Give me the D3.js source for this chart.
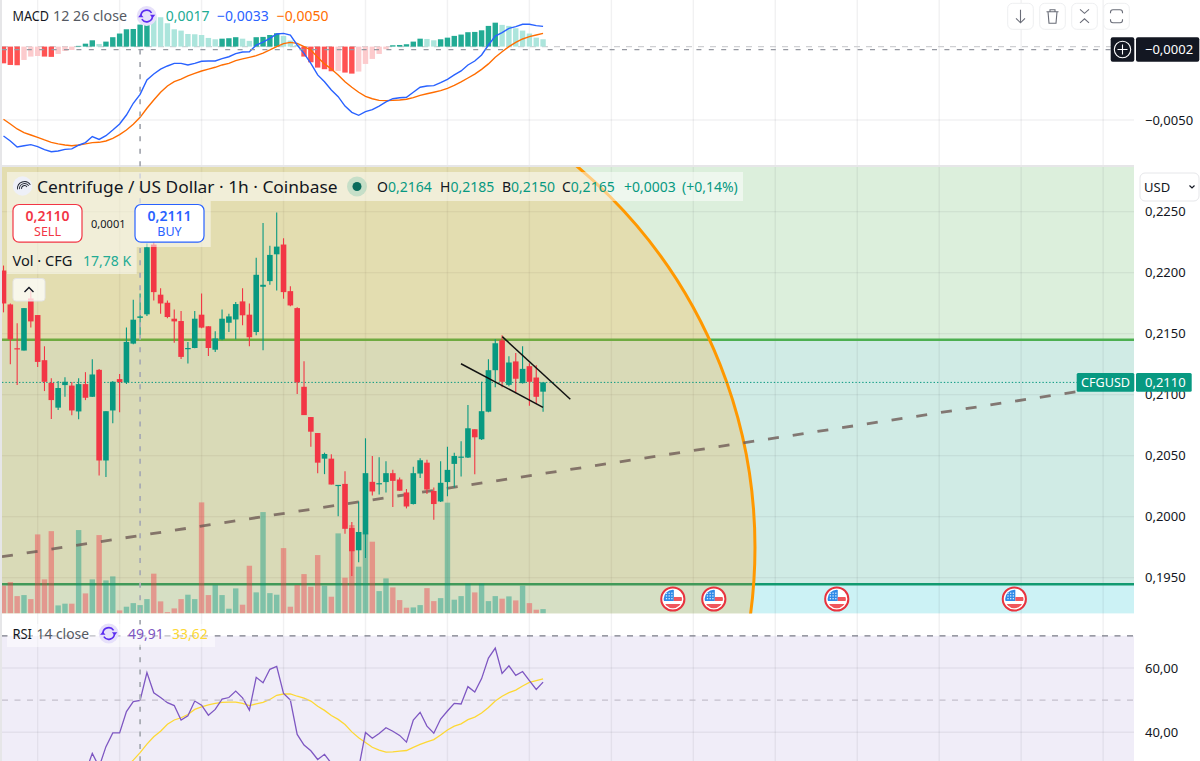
<!DOCTYPE html>
<html>
<head>
<meta charset="utf-8">
<title>CFGUSD 1h</title>
<script src="https://cdn.jsdelivr.net/npm/d3@7/dist/d3.min.js"></script>
<style>
  html, body { margin: 0; padding: 0; background: #fff; overflow: hidden; }
  svg { display: block; }
  text { font-family: "Noto Sans", "Open Sans", sans-serif; }
</style>
</head>
<body>
<svg id="chart" width="1200" height="761"></svg>
<script>
// Hourly candles, oldest first
const opens = [.22017,.21739,.21380,.21361,.21788,.21652,.21282,.21096,.20893,.21078,.21074,.20862,.21086,.20982,.21203,.20460,.20870,.21127,.21100,.21418,.21629,.21658,.22230,.21819,.21753,.21622,.21603,.21372,.21382,.21655,.21560,.21368,.21453,.21589,.21616,.21764,.21655,.21513,.21884,.21930,.22150,.22230,.21848,.21709,.21064,.20816,.20685,.20475,.20475,.20252,.20268,.19906,.19724,.19854,.20285,.20266,.20283,.20356,.20304,.20198,.20103,.20353,.20442,.20210,.20124,.20283,.20432,.20484,.20484,.20716,.20634,.20860,.21200,.21445,.21080,.21272,.21094,.21233,.21140,.21024];
const highs = [.22058,.21747,.21584,.21709,.21854,.21652,.21396,.21135,.21111,.21143,.21104,.21135,.21184,.21290,.21209,.20864,.21111,.21168,.21550,.21778,.21829,.22238,.22262,.21872,.21772,.21698,.21685,.21431,.21685,.21829,.21560,.21520,.21698,.21663,.21758,.21872,.21747,.22121,.22407,.22221,.22493,.22281,.21889,.21715,.21274,.20816,.20685,.20524,.20511,.20260,.20372,.19955,.20124,.20642,.20497,.20487,.20454,.20383,.20320,.20226,.20408,.20478,.20467,.20239,.20454,.20572,.20524,.20618,.20914,.20716,.21105,.21290,.21453,.21486,.21315,.21342,.21396,.21257,.21241,.21100];
const lows = [.21674,.21249,.21078,.21361,.21551,.21227,.21029,.20800,.20873,.20982,.20830,.20797,.20955,.20980,.20337,.20324,.20765,.20855,.21086,.21412,.21486,.21644,.21772,.21663,.21625,.21426,.21292,.21255,.21380,.21543,.21317,.21349,.21445,.21513,.21453,.21568,.21396,.21486,.21364,.21900,.21854,.21786,.21725,.21004,.20832,.20572,.20356,.20348,.20263,.20002,.19860,.19514,.19626,.19660,.20173,.20181,.20198,.20078,.20212,.20067,.20100,.20316,.20186,.19975,.20120,.20167,.20238,.20328,.20480,.20348,.20628,.20855,.21061,.21061,.21069,.21012,.21090,.20908,.20923,.20859];
const closes = [.21747,.21453,.21372,.21709,.21600,.21268,.21105,.20955,.21054,.21105,.20870,.21086,.20974,.21165,.20460,.20864,.21105,.21102,.21432,.21614,.21641,.22208,.21840,.21747,.21636,.21600,.21309,.21382,.21622,.21549,.21382,.21460,.21622,.21641,.21742,.21650,.21470,.21982,.21900,.22145,.22213,.21840,.21731,.21100,.20832,.20696,.20442,.20513,.20263,.20260,.19900,.19716,.19874,.20356,.20206,.20274,.20356,.20293,.20212,.20083,.20356,.20462,.20222,.20103,.20277,.20383,.20497,.20492,.20724,.20650,.20864,.21200,.21421,.21105,.21263,.21130,.21211,.21105,.20982,.21100];
// Traded volume per bar, thousands of CFG
const volumes = [59.3,67,37,39.2,30.6,169,72.8,176,17.1,20.8,20.8,178.3,42.8,72.8,167.6,70.6,79.2,6.4,14.3,22,17.78,30.6,85,25.7,2.8,10.7,30.6,40,30.6,237.5,39.2,60.6,39.2,10,53.5,18.6,102,45,216.8,43.4,40,139.7,14.3,60.6,84.1,57.1,124.8,59.3,35.7,171.2,76.4,189,100,171.2,153.4,47.7,74.9,55.6,28.5,12.2,12.8,17.8,54.1,26.3,32.7,236.9,29.3,37,64.2,44.9,64.2,26.3,37,31.5,36.4,27.8,59.3,22,7.9,9.2];
// MACD (12, 26, close)
const macdLine = [-.00609,-.00643,-.00684,-.00675,-.00668,-.00681,-.00702,-.00716,-.00711,-.00700,-.00697,-.00672,-.00654,-.00613,-.00632,-.00607,-.00568,-.00527,-.00466,-.00386,-.00325,-.00227,-.00187,-.00153,-.00132,-.00114,-.00114,-.00125,-.00114,-.00100,-.00098,-.00098,-.00082,-.00069,-.00048,-.00037,-.00035,.00011,.00031,.00056,.00086,.00090,.00079,.00011,-.00046,-.00114,-.00193,-.00239,-.00296,-.00341,-.00405,-.00448,-.00468,-.00443,-.00429,-.00405,-.00377,-.00355,-.00348,-.00345,-.00311,-.00277,-.00268,-.00266,-.00246,-.00223,-.00193,-.00166,-.00125,-.00098,-.00057,.00011,.00072,.00095,.00124,.00136,.00152,.00152,.00143,.00138];
const signalLine = [-.00495,-.00527,-.00561,-.00586,-.00602,-.00618,-.00636,-.00652,-.00663,-.00670,-.00675,-.00670,-.00663,-.00654,-.00652,-.00643,-.00625,-.00600,-.00568,-.00529,-.00482,-.00420,-.00364,-.00311,-.00268,-.00239,-.00221,-.00200,-.00182,-.00166,-.00153,-.00141,-.00125,-.00114,-.00096,-.00084,-.00073,-.00062,-.00044,-.00023,0,.00020,.00029,.00022,0,-.00023,-.00073,-.00118,-.00153,-.00193,-.00239,-.00277,-.00311,-.00339,-.00355,-.00366,-.00368,-.00366,-.00364,-.00359,-.00348,-.00332,-.00321,-.00311,-.00300,-.00284,-.00264,-.00241,-.00214,-.00187,-.00155,-.00118,-.00073,-.00035,0,.00029,.00052,.00068,.00079,.00090];
const macdHist = [-.00114,-.00125,-.00127,-.00091,-.00068,-.00064,-.00068,-.00070,-.00050,-.00030,-.00023,.00005,.00020,.00043,.00018,.00034,.00064,.00089,.00118,.00120,.00150,.00211,.00204,.00200,.00159,.00118,.00109,.00086,.00084,.00079,.00059,.00050,.00054,.00057,.00064,.00054,.00039,.00064,.00066,.00079,.00091,.00073,.00041,.00011,-.00068,-.00107,-.00143,-.00154,-.00168,-.00166,-.00177,-.00184,-.00170,-.00118,-.00084,-.00050,-.00018,.00009,.00011,.00016,.00034,.00054,.00052,.00043,.00050,.00061,.00073,.00082,.00098,.00100,.00111,.00141,.00163,.00148,.00141,.00125,.00109,.00089,.00061,.00050];
// RSI (14, close) and its moving average; earlier bars fall below the visible pane
const rsiLine = [null,null,null,null,null,null,null,null,null,null,null,null,27.5,33.4,29.2,35.5,39.8,39.8,46.4,49.5,49.91,58.6,52.3,50.8,49.2,48.3,43.8,45.1,49.7,48.4,45.3,47.1,50.3,50.8,52.8,50.7,46.9,57.1,55.4,59.6,60.5,52.1,50,39.3,36,34.2,31.5,33.1,30.3,28.7,26.1,24,28.7,39.9,38.1,39.6,41.4,40.3,39,36.9,43.8,46.2,41.9,39.7,44.1,46.6,49,48.8,54.2,52.5,56.7,63.1,66.2,58.3,60.7,57.7,58.9,56.1,53.3,55.6];
const rsiMa = [null,null,null,null,null,null,null,null,null,null,null,null,null,null,null,null,null,null,29.2,31.3,33.62,36.3,38.6,40.3,42.5,43.8,44.5,45.5,47.1,47.9,48.5,49,49.3,49.4,49.4,49,48.3,48.8,49.3,50.2,51.5,51.9,51.9,51.2,50.6,49.7,48.1,46.8,45.2,44,42.4,40.1,38.3,36.8,35.3,34.4,33.8,33.9,34.1,34.3,35.3,36.2,37,37.7,39.1,40.7,41.9,42.6,43.9,44.7,46,47.7,49.7,51.2,52.3,53.1,54.4,55.5,56.1,56.6];

const priceTicks = [0.225, 0.22, 0.215, 0.21, 0.205, 0.2, 0.195];
const macdTicks = [-0.005];
const rsiTicks = [60, 40];
const rsiBands = [70, 50];
const gridBars = [5,17,29,41,53,65,77,89,101,113,125,137,149,161];
const eventBars = [98, 104, 122, 148];
const crosshairBar = 20;
const crosshairMacd = -0.0002;
const lastPrice = 0.2110;
const resistance = 0.2145;
const support = 0.19445;
// Drawings, as [bar, price] anchors
const trendAnchors = [[-0.22, 0.19671], [157.1, 0.21024]];
const wedgeUpper = [[73.03, 0.21475], [82.99, 0.20962]];
const wedgeLower = [[66.98, 0.21253], [78.99, 0.20896]];
const circleCentre = [37.26, 0.19747];
const circleRadius = 497;

const GREEN = "#089981", RED = "#f23645", INK = "#131722";
const PANE_L = 2, PANE_R = 1134, MAIN_T = 167, MAIN_B = 613.4, RSI_T = 635.8;

const x = d3.scaleLinear().domain([0, 161]).range([3.5, 3.5 + 6.83 * 161]);
const yPrice = d3.scaleLinear().domain([0.195, 0.225]).range([577.6, 211.6]);
const yVol = d3.scaleLinear().domain([0, 237.5]).range([MAIN_B, MAIN_B - 111]);
const yMacd = d3.scaleLinear().domain([-0.005, 0]).range([120, 46.6]);
const yRsi = d3.scaleLinear().domain([40, 60]).range([732.2, 668]);
const comma = f => v => d3.format(f)(v).replace(".", ",");
const fmt4 = comma(".4f"), fmt2 = comma(".2f");

const svg = d3.select("#chart");
const defs = svg.append("defs");
defs.append("clipPath").attr("id", "clip-macd").append("rect")
  .attr("x", PANE_L).attr("y", 0).attr("width", PANE_R - PANE_L).attr("height", 165);
defs.append("clipPath").attr("id", "clip-main").append("rect")
  .attr("x", PANE_L).attr("y", MAIN_T).attr("width", PANE_R - PANE_L).attr("height", MAIN_B - MAIN_T);
defs.append("clipPath").attr("id", "clip-rsi").append("rect")
  .attr("x", PANE_L).attr("y", RSI_T).attr("width", PANE_R - PANE_L).attr("height", 761 - RSI_T);

// Pane backgrounds
svg.append("rect").attr("width", 1200).attr("height", 761).attr("fill", "#fff");
svg.append("rect").attr("x", PANE_L).attr("y", RSI_T).attr("width", PANE_R - PANE_L).attr("height", 761 - RSI_T).attr("fill", "#f0edf8");
const zones = [
  { top: MAIN_T, bottom: yPrice(resistance), fill: "#dcefdc" },
  { top: yPrice(resistance), bottom: yPrice(support), fill: "#d0ebe5" },
  { top: yPrice(support), bottom: MAIN_B, fill: "#ccf2f5" }
];
svg.selectAll("rect.zone").data(zones).join("rect").attr("class", "zone")
  .attr("x", PANE_L).attr("width", PANE_R - PANE_L)
  .attr("y", d => d.top).attr("height", d => d.bottom - d.top).attr("fill", d => d.fill);

// Grid
const grid = svg.append("g").attr("stroke", "rgba(42,46,57,0.065)").attr("stroke-width", 1.4);
grid.selectAll("line.v").data(gridBars).join("line").attr("class", "v")
  .attr("x1", d => x(d)).attr("x2", d => x(d)).attr("y1", 0).attr("y2", 761);
const hGrid = [...priceTicks.map(yPrice), ...macdTicks.map(yMacd), ...rsiTicks.map(yRsi)];
grid.selectAll("line.h").data(hGrid).join("line").attr("class", "h")
  .attr("x1", PANE_L).attr("x2", PANE_R).attr("y1", d => d).attr("y2", d => d);

// Window edges
svg.append("rect").attr("x", 0).attr("y", 0).attr("width", PANE_L).attr("height", 761).attr("fill", "#e6e6e8");
svg.append("rect").attr("x", 0).attr("y", 165).attr("width", PANE_R).attr("height", 2).attr("fill", "#e6e6e8");

// MACD pane
const macdPane = svg.append("g").attr("clip-path", "url(#clip-macd)");
macdPane.append("line").attr("x1", PANE_L).attr("x2", PANE_R).attr("y1", yMacd(0)).attr("y2", yMacd(0))
  .attr("stroke", "#cfd0d3").attr("stroke-width", 1.2).attr("stroke-dasharray", "6 6");
const histFill = (d, i) => {
  const prev = i ? macdHist[i - 1] : d;
  if (d >= 0) return d >= prev ? "#22ab94" : "#ace5dc";
  return d <= prev ? "#ff5252" : "#fccbcd";
};
macdPane.selectAll("rect.hist").data(macdHist).join("rect").attr("class", "hist")
  .attr("x", (d, i) => x(i) - 2.7).attr("width", 5.4)
  .attr("y", d => Math.min(yMacd(d), yMacd(0))).attr("height", d => Math.abs(yMacd(d) - yMacd(0)))
  .attr("fill", histFill);
const macdPath = d3.line().x((d, i) => x(i)).y(d => yMacd(d));
macdPane.append("path").attr("d", macdPath(signalLine)).attr("fill", "none").attr("stroke", "#ff6d00").attr("stroke-width", 1.4);
macdPane.append("path").attr("d", macdPath(macdLine)).attr("fill", "none").attr("stroke", "#2962ff").attr("stroke-width", 1.4);

// Main pane
const main = svg.append("g").attr("clip-path", "url(#clip-main)");
main.append("line").attr("x1", PANE_L).attr("x2", PANE_R).attr("y1", yPrice(resistance)).attr("y2", yPrice(resistance))
  .attr("stroke", "#4caf50").attr("stroke-width", 2.4);
main.append("line").attr("x1", PANE_L).attr("x2", PANE_R).attr("y1", yPrice(support)).attr("y2", yPrice(support))
  .attr("stroke", "#129a70").attr("stroke-width", 2.4);
main.append("circle")
  .attr("cx", x(circleCentre[0])).attr("cy", yPrice(circleCentre[1])).attr("r", circleRadius)
  .attr("fill", "rgba(255,152,0,0.2)").attr("stroke", "#ff9800").attr("stroke-width", 3);

main.selectAll("rect.vol").data(volumes).join("rect").attr("class", "vol")
  .attr("x", (d, i) => x(i) - 2.7).attr("width", 5.4)
  .attr("y", d => yVol(d)).attr("height", d => MAIN_B - yVol(d))
  .attr("fill", (d, i) => closes[i] >= opens[i] ? GREEN : RED)
  .attr("opacity", 0.42);

const anchorLine = d3.line().x(d => x(d[0])).y(d => yPrice(d[1]));
main.append("path").attr("d", anchorLine(trendAnchors)).attr("fill", "none")
  .attr("stroke", "rgba(110,90,85,0.8)").attr("stroke-width", 2.8).attr("stroke-dasharray", "11 14");
main.append("line").attr("x1", PANE_L).attr("x2", PANE_R).attr("y1", yPrice(lastPrice)).attr("y2", yPrice(lastPrice))
  .attr("stroke", GREEN).attr("stroke-width", 1).attr("stroke-dasharray", "1.4 2");

const candle = main.selectAll("g.bar").data(opens).join("g").attr("class", "bar")
  .attr("fill", (d, i) => closes[i] >= d ? GREEN : RED)
  .attr("stroke", (d, i) => closes[i] >= d ? GREEN : RED);
candle.append("line")
  .attr("x1", (d, i) => x(i)).attr("x2", (d, i) => x(i))
  .attr("y1", (d, i) => yPrice(highs[i])).attr("y2", (d, i) => yPrice(lows[i]))
  .attr("stroke-width", 1.1);
candle.append("rect").attr("stroke", "none")
  .attr("x", (d, i) => x(i) - 2.8).attr("width", 5.6)
  .attr("y", (d, i) => yPrice(Math.max(d, closes[i])))
  .attr("height", (d, i) => Math.max(1.2, Math.abs(yPrice(d) - yPrice(closes[i]))));

[wedgeUpper, wedgeLower].forEach(a => main.append("path").attr("d", anchorLine(a))
  .attr("fill", "none").attr("stroke", "#111").attr("stroke-width", 1.5));

// Economic event markers
const flag = main.selectAll("g.event").data(eventBars).join("g").attr("class", "event")
  .attr("transform", d => `translate(${x(d)},599)`);
defs.append("clipPath").attr("id", "clip-flag").append("circle").attr("r", 9.2);
flag.append("circle").attr("r", 11.6).attr("fill", "#fff").attr("stroke", "#e8333f").attr("stroke-width", 2);
const flagBody = flag.append("g").attr("clip-path", "url(#clip-flag)");
flagBody.append("rect").attr("x", -10).attr("y", -10).attr("width", 11).attr("height", 12).attr("fill", "#2f8ae8");
flagBody.append("rect").attr("x", 1).attr("y", -2).attr("width", 10).attr("height", 4).attr("fill", "#f0565c");
flagBody.append("rect").attr("x", -10).attr("y", 5).attr("width", 20).attr("height", 5).attr("fill", "#f0565c");
flagBody.selectAll("rect.star").data(d3.cross(d3.range(3), d3.range(3))).join("rect").attr("class", "star")
  .attr("x", d => -7 + d[0] * 2.7).attr("y", d => -6.4 + d[1] * 2.7)
  .attr("width", 1.3).attr("height", 1.3).attr("fill", "#d6e9fb");

// RSI pane
const rsiPane = svg.append("g").attr("clip-path", "url(#clip-rsi)");
const rsiPath = d3.line().defined(d => d !== null).x((d, i) => x(i)).y(d => yRsi(d));
rsiPane.append("path").attr("d", rsiPath(rsiMa)).attr("fill", "none").attr("stroke", "#fdd835").attr("stroke-width", 1.3);
rsiPane.append("path").attr("d", rsiPath(rsiLine)).attr("fill", "none").attr("stroke", "#7e57c2").attr("stroke-width", 1.3);
svg.append("line").attr("x1", PANE_L).attr("x2", PANE_R).attr("y1", yRsi(rsiBands[0])).attr("y2", yRsi(rsiBands[0]))
  .attr("stroke", "#787b86").attr("stroke-width", 1.2).attr("stroke-dasharray", "6 6.5");
svg.append("line").attr("x1", PANE_L).attr("x2", PANE_R).attr("y1", yRsi(rsiBands[1])).attr("y2", yRsi(rsiBands[1]))
  .attr("stroke", "#c3c0cc").attr("stroke-width", 1.4).attr("stroke-dasharray", "6 6.5");

// Crosshair
const cross = svg.append("g").attr("stroke", "#9598a1").attr("fill", "none");
cross.append("line").attr("x1", PANE_L).attr("x2", PANE_R).attr("y1", yMacd(crosshairMacd)).attr("y2", yMacd(crosshairMacd))
  .attr("stroke-width", 1.2).attr("stroke-dasharray", "5 7.4");
cross.append("line").attr("x1", x(crosshairBar)).attr("x2", x(crosshairBar)).attr("y1", yMacd(crosshairMacd)).attr("y2", 761)
  .attr("stroke", "#a9acb4").attr("stroke-width", 1.8).attr("stroke-dasharray", "5 7.4");

// Right-hand axes
function rightAxis(scale, ticks, format) {
  const g = svg.append("g").attr("transform", `translate(${PANE_R},0)`)
    .call(d3.axisRight(scale).tickValues(ticks).tickFormat(format).tickSize(0).tickPadding(11));
  g.select(".domain").remove();
  g.selectAll("text").attr("fill", INK).attr("font-size", 13).attr("font-family", '"Noto Sans", sans-serif');
}
rightAxis(yPrice, priceTicks, fmt4);
rightAxis(yMacd, macdTicks, fmt4);
rightAxis(yRsi, rsiTicks, fmt2);

// Helpers for labels
function label(parent, tx, ty, str, opts = {}) {
  const t = parent.append("text").attr("x", tx).attr("y", ty).text(str)
    .attr("font-size", opts.size || 14).attr("fill", opts.fill || INK)
    .attr("text-anchor", opts.anchor || "start").attr("font-weight", opts.weight || 400);
  if (opts.length) t.attr("textLength", opts.length).attr("lengthAdjust", "spacingAndGlyphs");
  return t;
}
function syncIcon(parent, cx, cy) {
  const g = parent.append("g").attr("transform", `translate(${cx},${cy})`);
  g.append("circle").attr("r", 10).attr("fill", "#e6e0fa");
  const arc = d3.arc().innerRadius(5).outerRadius(6.6);
  g.append("path").attr("d", arc({ startAngle: -1.5, endAngle: 1.0 })).attr("fill", "#5b2cf0");
  g.append("path").attr("d", arc({ startAngle: 1.64, endAngle: 4.14 })).attr("fill", "#5b2cf0");
  g.append("path").attr("d", "M3.2,-1.2L8.6,-1.2L5.9,2Z").attr("fill", "#5b2cf0");
  g.append("path").attr("d", "M-3.2,1.2L-8.6,1.2L-5.9,-2Z").attr("fill", "#5b2cf0");
}

// MACD legend
const legendMacd = svg.append("g");
label(legendMacd, 12.5, 21, "MACD", { length: 36.5 });
label(legendMacd, 53, 21, "12 26 close", { fill: "#555962", length: 74 });
syncIcon(legendMacd, 146.7, 16);
label(legendMacd, 165.7, 21, fmt4(0.0017), { fill: "#22ab94" });
label(legendMacd, 217, 21, fmt4(-0.0033), { fill: "#2962ff" });
label(legendMacd, 276.7, 21, fmt4(-0.0050), { fill: "#ff6d00" });

// Toolbar above the price axis
const toolbar = svg.append("g");
[1020.5, 1052.5, 1084.5, 1116.5].forEach((cx, i) => {
  const g = toolbar.append("g").attr("transform", `translate(${cx},16.3)`);
  g.append("rect").attr("x", -12.8).attr("y", -13).attr("width", 25.6).attr("height", 26).attr("rx", 5)
    .attr("fill", "#fff").attr("stroke", "#eeeff1");
  const icon = ["M0,-6.5V6.5M-4.5,2L0,6.5L4.5,2",
    "M-6,-4.5H6M-2.5,-4.5V-6.5H2.5V-4.5M-4.5,-4.5L-3.5,7H3.5L4.5,-4.5",
    "M-4.5,-7L0,-3L4.5,-7M-4.5,6.5L0,2.5L4.5,6.5",
    "M-6,-3V-4Q-6,-6.5 -3.5,-6.5H3.5Q6,-6.5 6,-4V-3M-6,3V4Q-6,6.5 -3.5,6.5H3.5Q6,6.5 6,4V3"][i];
  g.append("path").attr("d", icon).attr("fill", "none").attr("stroke", "#6a6d78").attr("stroke-width", 1.1);
});

// Crosshair value tag
svg.append("rect").attr("x", 1110.7).attr("y", 37.3).attr("width", 23.6).attr("height", 24.4).attr("rx", 2).attr("fill", INK);
svg.append("circle").attr("cx", 1122.5).attr("cy", 49.5).attr("r", 8.2).attr("fill", "none").attr("stroke", "#fff").attr("stroke-width", 1.1);
svg.append("path").attr("d", "M1117.5,49.5H1127.5M1122.5,44.5V54.5").attr("stroke", "#fff").attr("stroke-width", 1.1);
svg.append("rect").attr("x", 1136).attr("y", 37.3).attr("width", 63.3).attr("height", 24.4).attr("rx", 2).attr("fill", INK);
label(svg, 1145, 54, fmt4(crosshairMacd), { fill: "#fff", size: 13 });

// Currency selector
svg.append("rect").attr("x", 1140).attr("y", 173).attr("width", 59).attr("height", 28).attr("rx", 5).attr("fill", "#fff").attr("stroke", "#e6e7ea");
label(svg, 1144, 192, "USD", { size: 13 });
svg.append("path").attr("d", "M1189.5,185.5L1192,188L1194.5,185.5").attr("fill", "none").attr("stroke", INK).attr("stroke-width", 1.2);

// Last price tags
svg.append("rect").attr("x", 1076.7).attr("y", 373).attr("width", 57.6).attr("height", 18.8).attr("rx", 1.5).attr("fill", GREEN);
svg.append("rect").attr("x", 1136).attr("y", 373).attr("width", 55.7).attr("height", 18.8).attr("rx", 1.5).attr("fill", GREEN);
label(svg, 1081, 387, "CFGUSD", { fill: "#fff", size: 13, length: 49 });
label(svg, 1145, 387, fmt4(lastPrice), { fill: "#fff", size: 13 });

// Main legend
const legend = svg.append("g");
const panel = (px, py, w, h) => legend.append("rect").attr("x", px).attr("y", py).attr("width", w).attr("height", h)
  .attr("fill", "rgba(255,255,255,0.5)");
panel(7, 172, 736, 29);
panel(7, 201, 203.7, 46);
panel(7, 247, 129.7, 27);
legend.append("circle").attr("cx", 22.5).attr("cy", 186).attr("r", 9.7).attr("fill", "#eef0f8");
[3, 5, 7].forEach(r => legend.append("path")
  .attr("d", d3.arc().innerRadius(r - 0.5).outerRadius(r + 0.4)({ startAngle: -1.7, endAngle: 1.0 }))
  .attr("transform", "translate(24.5,188.5)").attr("fill", "#1f2430"));
label(legend, 37, 193, "Centrifuge / US Dollar · 1h · Coinbase", { size: 17, length: 300.5 });
legend.append("circle").attr("cx", 357).attr("cy", 186.5).attr("r", 10).attr("fill", "rgba(8,153,129,0.18)");
legend.append("circle").attr("cx", 357).attr("cy", 186.5).attr("r", 4.5).attr("fill", "#0a6b5c");
const ohlc = [["O", 0.2164, 377], ["H", 0.2185, 440], ["B", 0.2150, 502], ["C", 0.2165, 562]];
ohlc.forEach(([k, v, px]) => {
  const t = label(legend, px, 191.5, k);
  t.append("tspan").attr("fill", GREEN).text(fmt4(v));
});
label(legend, 624, 191.5, "+0,0003", { fill: GREEN });
label(legend, 682, 191.5, "(+0,14%)", { fill: GREEN });

function tradeBox(px, color, price, side) {
  legend.append("rect").attr("x", px).attr("y", 204.5).attr("width", 69).attr("height", 37.6).attr("rx", 6)
    .attr("fill", "#fff").attr("stroke", color).attr("stroke-width", 1.2);
  label(legend, px + 34.5, 220.5, price, { fill: color, anchor: "middle", weight: 600 });
  label(legend, px + 34.5, 236, side, { fill: color, anchor: "middle", size: 12.5 });
}
tradeBox(13, RED, "0,2110", "SELL");
tradeBox(135, "#2962ff", "0,2111", "BUY");
label(legend, 108.3, 227.5, "0,0001", { anchor: "middle", size: 11 });
label(legend, 12.5, 265.5, "Vol · CFG", { length: 60 });
label(legend, 83, 265.5, "17,78 K", { fill: "#22ab94" });
legend.append("rect").attr("x", 13).attr("y", 278.5).attr("width", 32).attr("height", 22.5).attr("rx", 3)
  .attr("fill", "rgba(255,255,255,0.75)").attr("stroke", "#e4e4e4");
legend.append("path").attr("d", "M24.5,292L29,287.5L33.5,292").attr("fill", "none").attr("stroke", INK).attr("stroke-width", 1.4);

// RSI legend
const legendRsi = svg.append("g");
legendRsi.append("rect").attr("x", 7).attr("y", 624).attr("width", 208).attr("height", 23).attr("fill", "rgba(255,255,255,0.5)");
label(legendRsi, 12.5, 638.5, "RSI", { length: 19.5 });
label(legendRsi, 36.5, 638.5, "14 close", { fill: "#555962", length: 52.5 });
syncIcon(legendRsi, 108.7, 633.5);
label(legendRsi, 128, 638.5, fmt2(49.91), { fill: "#7e57c2" });
label(legendRsi, 172, 638.5, fmt2(33.62), { fill: "#fdd835" });
</script>
</body>
</html>
